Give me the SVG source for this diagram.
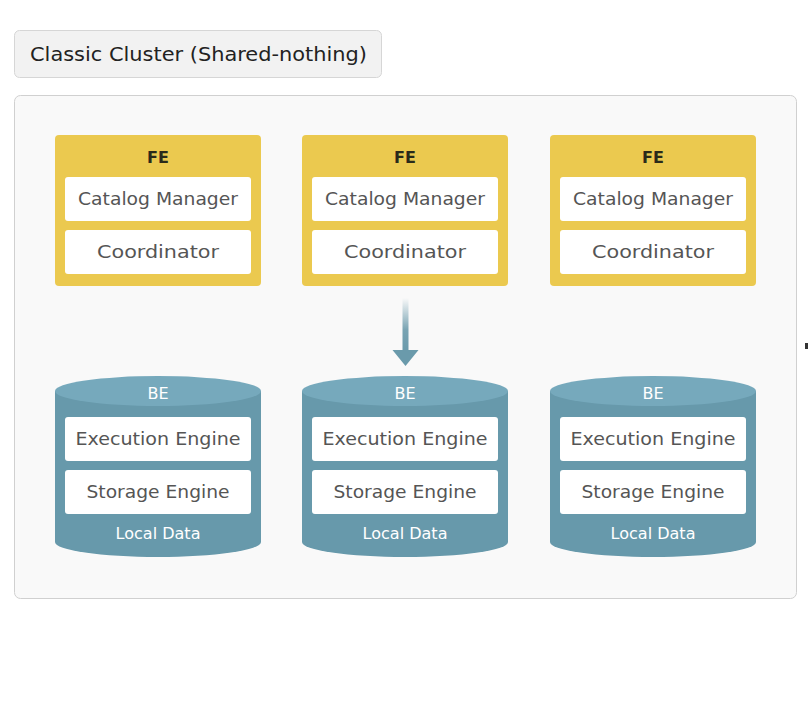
<svg xmlns="http://www.w3.org/2000/svg" width="808" height="708" viewBox="0 0 808 708">
  <defs>
    <linearGradient id="arrowGrad" x1="0" y1="0" x2="0" y2="1">
      <stop offset="0" stop-color="#6a9aab" stop-opacity="0"/>
      <stop offset="0.6" stop-color="#6a9aab" stop-opacity="0.9"/>
      <stop offset="1" stop-color="#6a9aab" stop-opacity="1"/>
    </linearGradient>
    <style>
      .fe { fill: #ebc94f; }
      .inner { fill: #ffffff; }
      .inner-t { font-family: "DejaVu Sans", "Open Sans", sans-serif; font-size: 17px; fill: #555555; text-anchor: middle; }
      .head-fe { font-family: "DejaVu Sans", "Open Sans", sans-serif; font-size: 16px; font-weight: bold; fill: #2a2a1a; text-anchor: middle; }
      .head-be { font-family: "DejaVu Sans", "Open Sans", sans-serif; font-size: 16px; fill: #ffffff; text-anchor: middle; }
      .local { font-family: "DejaVu Sans", "Open Sans", sans-serif; font-size: 15px; fill: #ffffff; text-anchor: middle; }
      .body { fill: #6799ab; }
      .top { fill: #76a9bc; }
    </style>
  </defs>
  <rect x="0" y="0" width="808" height="708" fill="#ffffff"/>

  <g id="title">
    <rect x="14.5" y="30.5" width="367" height="47" rx="5" fill="#f2f2f2" stroke="#d6d6d6"/>
    <text x="30" y="61" font-family="DejaVu Sans, Open Sans, sans-serif" font-size="19.5" fill="#222222" textLength="337" lengthAdjust="spacingAndGlyphs">Classic Cluster (Shared-nothing)</text>
  </g>

  <g id="panel">
    <rect x="14.5" y="95.5" width="782" height="503" rx="6" fill="#f9f9f9" stroke="#d0d0d0"/>
  </g>

  <g id="fe1">
    <rect class="fe" x="55" y="135" width="206" height="151" rx="4"/>
    <text class="head-fe" x="158" y="163">FE</text>
    <rect class="inner" x="65" y="177" width="186" height="44" rx="3"/>
    <text class="inner-t" x="158" y="205" textLength="160" lengthAdjust="spacingAndGlyphs">Catalog Manager</text>
    <rect class="inner" x="65" y="230" width="186" height="44" rx="3"/>
    <text class="inner-t" x="158" y="258" textLength="122" lengthAdjust="spacingAndGlyphs">Coordinator</text>
  </g>
  <g id="fe2">
    <rect class="fe" x="302" y="135" width="206" height="151" rx="4"/>
    <text class="head-fe" x="405" y="163">FE</text>
    <rect class="inner" x="312" y="177" width="186" height="44" rx="3"/>
    <text class="inner-t" x="405" y="205" textLength="160" lengthAdjust="spacingAndGlyphs">Catalog Manager</text>
    <rect class="inner" x="312" y="230" width="186" height="44" rx="3"/>
    <text class="inner-t" x="405" y="258" textLength="122" lengthAdjust="spacingAndGlyphs">Coordinator</text>
  </g>
  <g id="fe3">
    <rect class="fe" x="550" y="135" width="206" height="151" rx="4"/>
    <text class="head-fe" x="653" y="163">FE</text>
    <rect class="inner" x="560" y="177" width="186" height="44" rx="3"/>
    <text class="inner-t" x="653" y="205" textLength="160" lengthAdjust="spacingAndGlyphs">Catalog Manager</text>
    <rect class="inner" x="560" y="230" width="186" height="44" rx="3"/>
    <text class="inner-t" x="653" y="258" textLength="122" lengthAdjust="spacingAndGlyphs">Coordinator</text>
  </g>

  <g id="be1">
    <path class="body" d="M55 391 L55 542 A103 15 0 0 0 261 542 L261 391 Z"/>
    <ellipse class="top" cx="158" cy="391" rx="103" ry="15"/>
    <text class="head-be" x="158" y="399">BE</text>
    <rect class="inner" x="65" y="417" width="186" height="44" rx="3"/>
    <text class="inner-t" x="158" y="445" textLength="165" lengthAdjust="spacingAndGlyphs">Execution Engine</text>
    <rect class="inner" x="65" y="470" width="186" height="44" rx="3"/>
    <text class="inner-t" x="158" y="498" textLength="143" lengthAdjust="spacingAndGlyphs">Storage Engine</text>
    <text class="local" x="158" y="539" textLength="85" lengthAdjust="spacingAndGlyphs">Local Data</text>
  </g>
  <g id="be2">
    <path class="body" d="M302 391 L302 542 A103 15 0 0 0 508 542 L508 391 Z"/>
    <ellipse class="top" cx="405" cy="391" rx="103" ry="15"/>
    <text class="head-be" x="405" y="399">BE</text>
    <rect class="inner" x="312" y="417" width="186" height="44" rx="3"/>
    <text class="inner-t" x="405" y="445" textLength="165" lengthAdjust="spacingAndGlyphs">Execution Engine</text>
    <rect class="inner" x="312" y="470" width="186" height="44" rx="3"/>
    <text class="inner-t" x="405" y="498" textLength="143" lengthAdjust="spacingAndGlyphs">Storage Engine</text>
    <text class="local" x="405" y="539" textLength="85" lengthAdjust="spacingAndGlyphs">Local Data</text>
  </g>
  <g id="be3">
    <path class="body" d="M550 391 L550 542 A103 15 0 0 0 756 542 L756 391 Z"/>
    <ellipse class="top" cx="653" cy="391" rx="103" ry="15"/>
    <text class="head-be" x="653" y="399">BE</text>
    <rect class="inner" x="560" y="417" width="186" height="44" rx="3"/>
    <text class="inner-t" x="653" y="445" textLength="165" lengthAdjust="spacingAndGlyphs">Execution Engine</text>
    <rect class="inner" x="560" y="470" width="186" height="44" rx="3"/>
    <text class="inner-t" x="653" y="498" textLength="143" lengthAdjust="spacingAndGlyphs">Storage Engine</text>
    <text class="local" x="653" y="539" textLength="85" lengthAdjust="spacingAndGlyphs">Local Data</text>
  </g>

  <g id="connectors">
    <rect x="402.5" y="298" width="6" height="53" fill="url(#arrowGrad)"/>
    <path d="M392.5 350 L418.5 350 L405.5 366 Z" fill="#6a9aab"/>
  </g>

  <rect x="805" y="343" width="3" height="6" fill="#333333"/>
</svg>
